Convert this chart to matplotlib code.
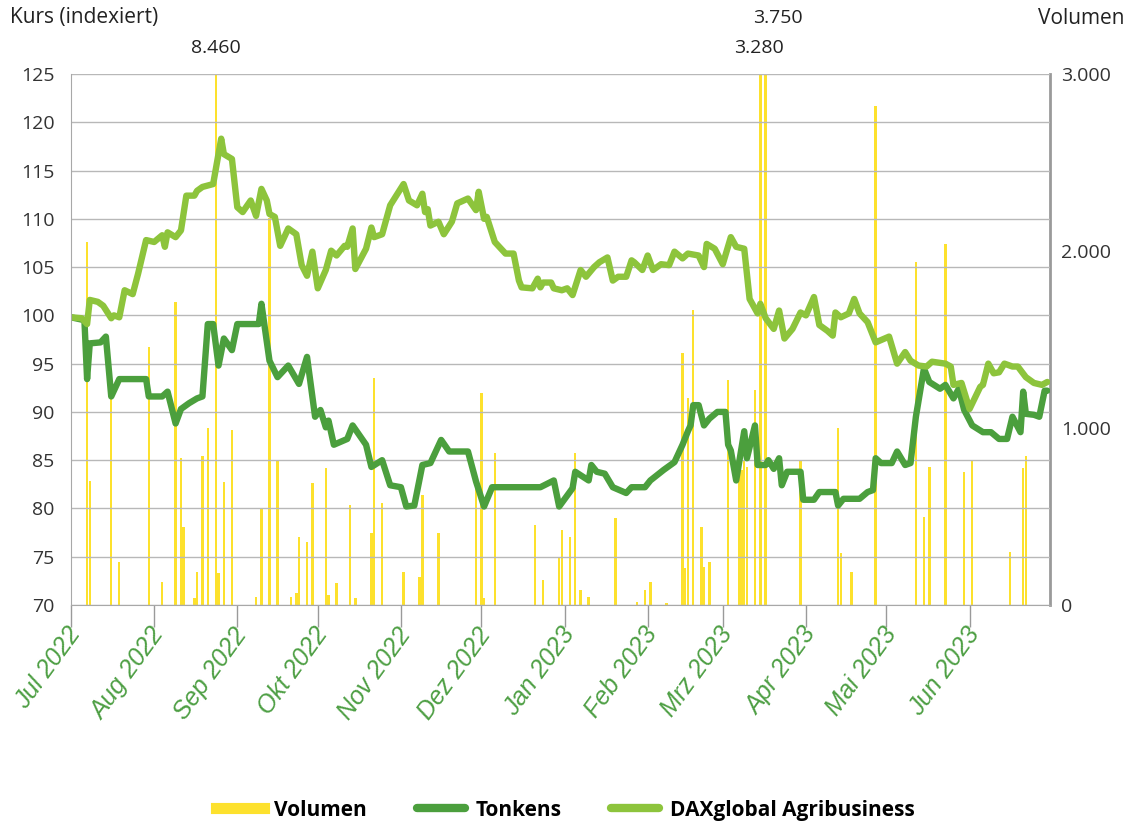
import matplotlib
matplotlib.use('Agg')
import matplotlib.pyplot as plt
import matplotlib.transforms as mtransforms
from matplotlib.lines import Line2D
from matplotlib.ticker import FuncFormatter
import pandas as pd

plt.rcParams['font.family'] = ['Liberation Sans Narrow', 'Open Sans', 'DejaVu Sans']

START = pd.Timestamp('2022-07-01')

# DAXglobal Agribusiness (indexiert), Tage seit 01.07.2022
dax_day = [0, 4, 6, 7, 10, 12, 15, 16, 18, 20, 23, 25, 28, 31, 34, 35, 36, 39, 41, 43,
           46, 47, 49, 53, 56, 57, 60, 62, 64, 67, 69, 71, 73, 74, 76, 78, 81, 84, 86, 88,
           90, 92, 95, 97, 99, 102, 103, 105, 106, 110, 112, 113, 116, 119, 124, 126, 129, 131, 132, 133,
           134, 137, 139, 142, 144, 148, 151, 152, 154, 155, 158, 161, 162, 165, 167, 168, 172, 174, 175, 176,
           179, 180, 183, 185, 187, 190, 192, 195, 197, 200, 202, 204, 207, 209, 210, 213, 215, 217, 220, 223,
           225, 228, 230, 234, 236, 237, 240, 243, 246, 248, 251, 253, 256, 257, 259, 262, 264, 266, 269, 272,
           274, 277, 279, 282, 284, 285, 287, 290, 292, 294, 297, 300, 305, 308, 311, 313, 316, 319, 321, 326,
           328, 329, 332, 335, 339, 340, 342, 344, 346, 348, 351, 353, 356, 359, 362, 364]
dax = [99.8, 99.7, 99.1, 101.6, 101.4, 101.0, 99.7, 100.0, 99.8, 102.6, 102.2, 104.3, 107.8, 107.6, 108.3, 107.1, 108.6, 108.1, 108.8, 112.4,
       112.4, 112.9, 113.3, 113.6, 118.3, 116.7, 116.2, 111.2, 110.7, 111.9, 110.3, 113.1, 111.9, 110.5, 110.2, 107.2, 109.0, 108.4, 105.2, 104.1,
       106.6, 102.8, 104.7, 106.7, 106.2, 107.2, 107.1, 109.0, 104.8, 106.9, 109.1, 108.1, 108.4, 111.4, 113.6, 111.9, 111.4, 112.6, 110.7, 111.0,
       109.3, 109.7, 108.4, 109.7, 111.6, 112.1, 110.9, 112.8, 110.0, 110.2, 107.6, 106.7, 106.4, 106.4, 103.6, 102.9, 102.8, 103.8, 102.9, 103.4,
       103.4, 102.8, 102.6, 102.8, 102.1, 104.7, 104.0, 105.0, 105.5, 106.0, 103.6, 104.0, 104.0, 105.7, 105.5, 104.7, 106.2, 104.7, 105.3, 105.2,
       106.6, 105.9, 106.4, 106.2, 105.0, 107.4, 106.9, 105.3, 108.1, 107.1, 106.9, 101.7, 100.2, 101.2, 99.7, 98.6, 100.5, 97.6, 98.6, 100.3,
       100.0, 101.9, 99.0, 98.4, 97.9, 100.3, 99.8, 100.2, 101.7, 100.2, 99.3, 97.2, 97.8, 95.0, 96.2, 95.3, 94.8, 94.7, 95.2, 95.0,
       94.7, 92.8, 93.0, 90.3, 92.6, 92.8, 95.0, 94.0, 94.1, 95.0, 94.7, 94.7, 93.6, 93.0, 92.8, 93.1]

# Tonkens (indexiert)
tonkens_day = [0, 5, 6, 7, 11, 13, 15, 18, 28, 29, 34, 36, 39, 41, 44, 47, 49, 51, 53, 55,
               57, 60, 62, 70, 71, 74, 77, 81, 85, 88, 91, 93, 95, 96, 98, 103, 105, 110, 112, 116,
               119, 123, 125, 128, 131, 134, 138, 141, 148, 151, 154, 157, 175, 180, 182, 187, 188, 193, 194, 196,
               199, 202, 207, 209, 214, 216, 221, 225, 228, 230, 231, 232, 234, 236, 238, 241, 244, 245, 246, 248,
               251, 252, 255, 256, 259, 260, 262, 264, 265, 267, 272, 273, 277, 279, 285, 286, 288, 294, 297, 299,
               300, 302, 306, 308, 311, 313, 315, 318, 320, 324, 326, 329, 331, 333, 336, 340, 343, 346, 349, 351,
               354, 355, 356, 359, 361, 363, 364]
tonkens = [99.8, 99.5, 93.4, 97.1, 97.2, 97.8, 91.6, 93.4, 93.4, 91.6, 91.6, 92.1, 88.8, 90.3, 90.9, 91.4, 91.6, 99.1, 99.1, 94.8,
           97.6, 96.4, 99.1, 99.1, 101.2, 95.3, 93.6, 94.8, 92.9, 95.7, 89.5, 90.2, 88.4, 89.1, 86.6, 87.2, 88.6, 86.6, 84.3, 85.0,
           82.4, 82.2, 80.2, 80.3, 84.5, 84.7, 87.1, 85.9, 85.9, 82.8, 80.2, 82.2, 82.2, 82.9, 80.2, 82.1, 83.8, 82.9, 84.5, 83.8,
           83.6, 82.2, 81.6, 82.2, 82.2, 82.9, 84.0, 84.8, 86.6, 88.0, 88.6, 90.7, 90.7, 88.6, 89.3, 90.0, 90.0, 86.6, 86.0, 82.9,
           88.0, 85.2, 88.6, 84.5, 84.5, 85.0, 84.1, 85.2, 82.4, 83.8, 83.8, 80.9, 80.9, 81.7, 81.7, 80.3, 81.0, 81.0, 81.7, 81.9,
           85.2, 84.7, 84.7, 85.9, 84.5, 84.7, 89.5, 94.5, 93.1, 92.4, 92.8, 91.4, 92.4, 90.2, 88.6, 87.9, 87.9, 87.2, 87.2, 89.5,
           87.9, 92.1, 89.8, 89.7, 89.5, 92.2, 92.2]

# Volumen (Stück)
vol_day = [6, 7, 15, 18, 29, 34, 39, 41, 42, 46, 47, 49, 51, 54, 55, 57, 60, 69, 71, 74,
           77, 82, 84, 85, 88, 90, 95, 96, 99, 104, 106, 112, 113, 116, 124, 130, 131, 137, 151, 153,
           154, 158, 173, 176, 182, 183, 186, 188, 190, 193, 203, 211, 214, 216, 222, 228, 229, 230, 232, 235,
           236, 238, 245, 249, 250, 251, 252, 255, 257, 259, 272, 286, 287, 291, 300, 315, 318, 320, 326, 333,
           336, 350, 355, 356]
volume = [2050, 700, 1180, 245, 1460, 132, 1714, 829, 443, 40, 188, 840, 1000, 8460, 179, 697, 989, 47, 546, 2184,
          819, 47, 66, 386, 358, 687, 772, 56, 122, 565, 38, 405, 1280, 574, 188, 160, 621, 405, 687, 1196,
          38, 857, 452, 141, 264, 424, 386, 857, 85, 47, 490, 19, 85, 132, 9, 1422, 207, 1168, 1667, 443,
          217, 245, 1271, 800, 760, 820, 780, 1215, 3280, 3750, 819, 998, 292, 188, 2820, 1940, 499, 781, 2040, 753,
          819, 301, 772, 840]

months = ['Jul 2022', 'Aug 2022', 'Sep 2022', 'Okt 2022', 'Nov 2022', 'Dez 2022',
          'Jan 2023', 'Feb 2023', 'Mrz 2023', 'Apr 2023', 'Mai 2023', 'Jun 2023']

YELLOW = '#fde12d'
DARK = '#4b9f3d'
LIGHT = '#8dc43c'


def to_dates(days):
    return START + pd.to_timedelta(days, unit='D')


def de_thousands(v, pos):
    return f'{int(v):,}'.replace(',', '.')


fig = plt.figure(figsize=(11.41, 8.30), dpi=100)
ax = fig.add_axes([71 / 1141, 1 - 605 / 830, 979 / 1141, 531 / 830])
ax2 = ax.twinx()

ax2.bar(to_dates(vol_day), volume, width=0.9, color=YELLOW, linewidth=0)
ax2.set_ylim(0, 3000)
ax2.set_yticks([0, 1000, 2000, 3000])
ax2.yaxis.set_major_formatter(FuncFormatter(de_thousands))

# Werte oberhalb der Skala
vd = to_dates(vol_day)
big = [(i, v) for i, v in enumerate(volume) if v > 3000]
offsets = {8460: (0, 19), 3280: (-1, 19), 3750: (9, 40)}
for i, v in big:
    ax2.annotate(de_thousands(v, None), xy=(vd[i], 1), xycoords=('data', 'axes fraction'),
                 xytext=offsets.get(v, (0, 19)), textcoords='offset points',
                 ha='center', va='center', fontsize=14, color='#222222', annotation_clip=False)

ax.set_zorder(ax2.get_zorder() + 1)
ax.patch.set_visible(False)

ax.plot(to_dates(tonkens_day), tonkens, color=DARK, lw=4.6, solid_joinstyle='round', solid_capstyle='round')
ax.plot(to_dates(dax_day), dax, color=LIGHT, lw=4.6, solid_joinstyle='round', solid_capstyle='round')

ax.set_ylim(70, 125)
ax.set_yticks(range(70, 126, 5))
ax.set_xlim(START, pd.Timestamp('2023-07-01'))
ax.grid(axis='y', color='#b8b8b8', lw=1)
ax.set_axisbelow(True)

month_ticks = pd.date_range(START, periods=12, freq='MS')
ax.set_xticks(month_ticks)
ax.set_xticklabels(months)
ax.tick_params(axis='x', length=16, width=1, color='#9a9a9a', pad=2)
ax.tick_params(axis='y', length=0, pad=12, labelsize=14, labelcolor='#333333')
ax2.tick_params(axis='y', length=0, pad=8, labelsize=14, labelcolor='#333333')

offset = mtransforms.ScaledTranslation(5 / 100, 0, fig.dpi_scale_trans)
for lab in ax.get_xticklabels():
    lab.set_rotation(54)
    lab.set_ha('right')
    lab.set_va('center')
    lab.set_rotation_mode('anchor')
    lab.set_fontsize(18)
    lab.set_fontstyle('italic')
    lab.set_family(['Liberation Sans', 'DejaVu Sans'])
    lab.set_color('#4e9f44')
    lab.set_transform(lab.get_transform() + offset)

for a in (ax, ax2):
    a.spines['top'].set_visible(False)
ax.spines['right'].set_visible(False)
ax2.spines['left'].set_visible(False)
ax2.spines['bottom'].set_visible(False)
ax.spines['left'].set_color('#a8a8a8')
ax.spines['bottom'].set_color('#a8a8a8')
ax2.spines['right'].set_color('#9a9a9a')
ax2.spines['right'].set_linewidth(2)

fig.text(10 / 1141, 1 - 18 / 830, 'Kurs (indexiert)', ha='left', va='center', fontsize=15, color='#222222')
fig.text(1125 / 1141, 1 - 18 / 830, 'Volumen', ha='right', va='center', fontsize=15, color='#222222')

handles = [Line2D([], [], color=YELLOW, lw=8),
           Line2D([], [], color=DARK, lw=6, solid_capstyle='round'),
           Line2D([], [], color=LIGHT, lw=6, solid_capstyle='round')]
fig.legend(handles, ['Volumen', 'Tonkens', 'DAXglobal Agribusiness'], loc='center',
           bbox_to_anchor=(565 / 1141, 1 - 810 / 830), ncol=3, frameon=False,
           prop={'size': 15, 'weight': 'bold'}, handlelength=2.3, handletextpad=0.5,
           columnspacing=2.4)

fig.savefig('out.png', dpi=100)
